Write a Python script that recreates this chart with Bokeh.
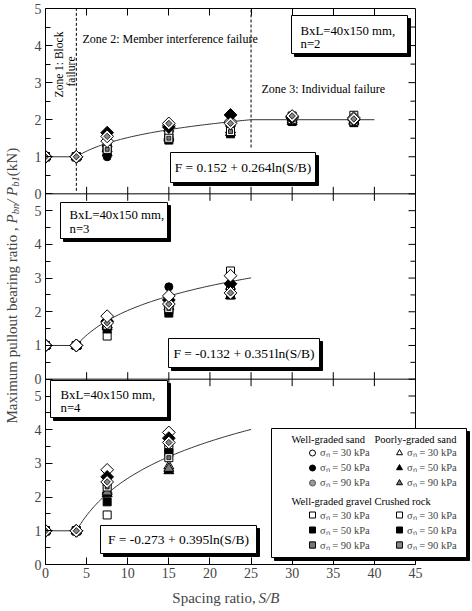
import numpy as np
from bokeh.plotting import figure
from bokeh.layouts import row, column
from bokeh.models import (Range1d, LinearAxis, FixedTicker, Label, BoxAnnotation,
                          Legend, LegendItem)
from bokeh.embed import file_html
from bokeh.resources import INLINE

# ---------------- data ----------------
soils = ["Well-graded sand", "Poorly-graded sand", "Well-graded gravel", "Crushed rock"]
stresses = [30, 50, 90]
xticks = [0, 5, 10, 15, 20, 25, 30, 35, 40, 45]
yticks = [0, 1, 2, 3, 4, 5]
zone_bounds = [3.75, 25]

# panel n=2
n2_x = [0, 3.75, 7.5, 15, 22.5, 30, 37.5]
n2_wgs = [[1, 1, 1.30, 1.70, 1.85, 2.00, 2.02], [1, 1, 1.00, 1.60, 1.75, 2.05, 1.98], [1, 1, 1.15, 1.55, 1.70, 1.98, 2.00]]
n2_pgs = [[1, 1, 1.35, 1.75, 1.90, 2.05, 2.05], [1, 1, 1.10, 1.50, 1.65, 1.95, 1.95], [1, 1, 1.22, 1.55, 1.72, 2.00, 1.98]]
n2_wgg = [[1, 1, 1.25, 1.65, 1.80, 2.10, 2.12], [1, 1, 1.15, 1.45, 1.62, 1.95, 1.92], [1, 1, 1.20, 1.50, 1.68, 2.00, 1.96]]
n2_cr = [[1, 1, 1.42, 1.85, 1.95, 2.05, 2.05], [1, 1, 1.65, 1.80, 2.13, 2.08, 2.00], [1, 1, 1.55, 1.90, 1.90, 2.10, 2.02]]

# panel n=3
n3_x = [0, 3.75, 7.5, 15, 22.5]
n3_wgs = [[1, 1, 1.55, 2.35, 2.80], [1, 1, 1.50, 2.74, 2.85], [1, 1, 1.60, 2.30, 2.65]]
n3_pgs = [[1, 1, 1.60, 2.40, 2.75], [1, 1, 1.55, 2.15, 2.47], [1, 1, 1.62, 2.25, 2.60]]
n3_wgg = [[1, 1, 1.28, 2.05, 3.21], [1, 1, 1.49, 1.96, 2.50], [1, 1, 1.60, 2.10, 2.62]]
n3_cr = [[1, 1, 1.87, 2.47, 3.07], [1, 1, 1.72, 2.35, 2.83], [1, 1, 1.67, 2.23, 2.56]]

# panel n=4
n4_x = [0, 3.75, 7.5, 15]
n4_wgs = [[1, 1, 2.35, 3.50], [1, 1, 2.50, 3.70], [1, 1, 2.27, 3.55]]
n4_pgs = [[1, 1, 2.20, 2.92], [1, 1, 2.10, 2.78], [1, 1, 2.15, 2.85]]
n4_wgg = [[1, 1, 1.47, 3.42], [1, 1, 1.86, 3.32], [1, 1, 2.30, 3.17]]
n4_cr = [[1, 1, 2.81, 3.92], [1, 1, 2.60, 3.75], [1, 1, 2.45, 3.62]]

# fitted curves F = a + b ln(S/B); plotted as F / F(block limit)
fit_a = [0.152, -0.132, -0.273]
fit_b = [0.264, 0.351, 0.395]
fit_end = [25, 25, 25]
flat_end = [40, None, None]
fit_text = ["F = 0.152 + 0.264ln(S/B)", "F = -0.132 + 0.351ln(S/B)", "F = -0.273 + 0.395ln(S/B)"]
panel_text = [("BxL=40x150 mm,", "n=2"), ("BxL=40x150 mm,", "n=3"), ("BxL=40x150 mm,", "n=4")]

# ---------------- geometry / style ----------------
FONT = "Liberation Serif"
W_TOT, H_TOT = 471, 609
LW = 22                     # width of y-label strip
XLH = 24                    # height of x-label strip
MW, MH = W_TOT - LW, H_TOT - XLH
FL, FT, FB, FR = 45, 8, 564, 470   # frame edges (page px)
BOX_R = 415                 # page px of x = 45

def sx(xr):
    return xr - FL

def sy(yr):
    return FB - yr

panel_src = [(0, 5), (0, 5.5), (0, 5.5)]
panel_tgt = [(110, 165), (55, 110), (0, 55)]
XMAX = 45.0
x_end = XMAX * (FR - FL) / (BOX_R - FL)

p = figure(width=MW, height=MH, x_range=Range1d(0, x_end), y_range=Range1d(0, 165),
           output_backend="svg", toolbar_location=None,
           x_axis_location=None, y_axis_location=None,
           min_border_left=FL - LW, min_border_right=LW + MW - FR,
           min_border_top=FT, min_border_bottom=MH - FB)
p.outline_line_color = None
p.background_fill_color = "white"
p.border_fill_color = "white"
for g in p.grid:
    g.visible = False

subs = []
for (s0, s1), (t0, t1) in zip(panel_src, panel_tgt):
    subs.append(p.subplot(x_source=p.x_range, y_source=Range1d(s0, s1),
                          x_target=p.x_range, y_target=Range1d(t0, t1)))

# y ticks in global coordinates
ymaj, ymin, ovr = [], [], {}
for (s0, s1), (t0, t1) in zip(panel_src, panel_tgt):
    k = (t1 - t0) / (s1 - s0)
    for v in yticks:
        gv = t0 + k * v
        ymaj.append(gv)
        ovr[gv] = str(v)
        if v + 0.5 < s1:
            ymin.append(t0 + k * (v + 0.5))

ly = LinearAxis(ticker=FixedTicker(ticks=ymaj, minor_ticks=ymin),
                major_tick_in=7, major_tick_out=0, minor_tick_in=5, minor_tick_out=0,
                axis_line_color="black", major_label_overrides=ovr,
                major_label_text_font=FONT, major_label_text_font_size="14px",
                major_label_standoff=4)
p.add_layout(ly, "left")

xb = LinearAxis(ticker=FixedTicker(ticks=xticks), bounds=(0, XMAX),
                major_tick_in=7, major_tick_out=0, minor_tick_in=0, minor_tick_out=0,
                axis_line_color="black",
                major_label_text_font=FONT, major_label_text_font_size="14px",
                major_label_standoff=3)
p.add_layout(xb, "below")

inner_x = xticks[1:-1]
xa = LinearAxis(ticker=FixedTicker(ticks=inner_x), bounds=(0, XMAX),
                major_tick_in=7, major_tick_out=0, minor_tick_in=0, minor_tick_out=0,
                axis_line_color="black", major_label_overrides={t: "" for t in inner_x},
                major_label_standoff=0, major_label_text_font_size="1px")
p.add_layout(xa, "above")

# right edge of the plot box, right-side ticks, panel separators, boundary ticks
p.segment(x0=[XMAX], y0=[0], x1=[XMAX], y1=[165], line_color="black", line_width=1)
p.ray(x=[XMAX] * len(ymaj), y=ymaj, length=7, length_units="screen", angle=np.pi,
      line_color="black", line_width=1)
p.ray(x=[XMAX] * len(ymin), y=ymin, length=5, length_units="screen", angle=np.pi,
      line_color="black", line_width=1)
for (t0, t1) in panel_tgt[1:]:
    p.segment(x0=[0], y0=[t1], x1=[XMAX], y1=[t1], line_color="black", line_width=1)
    p.ray(x=inner_x, y=[t1] * len(inner_x), length=7, length_units="screen",
          angle=np.pi / 2, line_color="black", line_width=1)
    p.ray(x=inner_x, y=[t1] * len(inner_x), length=7, length_units="screen",
          angle=-np.pi / 2, line_color="black", line_width=1)

# zone dashed lines (top panel)
subs[0].segment(x0=[zone_bounds[0]], y0=[0.08], x1=[zone_bounds[0]], y1=[5],
                line_color="black", line_dash="3 2", line_width=1)
subs[0].segment(x0=[zone_bounds[1]], y0=[1.25], x1=[zone_bounds[1]], y1=[5],
                line_color="black", line_dash="3 2", line_width=1)

# fitted curves
for i, sub in enumerate(subs):
    a, b = fit_a[i], fit_b[i]
    f0 = a + b * np.log(zone_bounds[0])
    xs = list(np.linspace(zone_bounds[0], fit_end[i], 80))
    ys = [(a + b * np.log(x)) / f0 for x in xs]
    xs = [0.0] + xs
    ys = [1.0] + ys
    if flat_end[i] is not None:
        xs.append(flat_end[i])
        ys.append(ys[-1])
    sub.line(xs, ys, line_color="#333333", line_width=1)

# marker styles: (marker, size, fill, line, angle, inner)
M_STYLE = {
    0: [("circle", 8, "white", "black", 0, None), ("circle", 8, "black", "black", 0, None),
        ("circle", 8, "#9a9a9a", "#555555", 0, None)],
    1: [("triangle", 10, "white", "black", 0, None), ("triangle", 10, "black", "black", 0, None),
        ("triangle", 10, "#7a7a7a", "black", 0, None)],
    2: [("square", 8, "white", "black", 0, None), ("square", 8, "black", "black", 0, None),
        ("square", 8, "white", "black", 0, ("square", 4, "#777777"))],
    3: [("square", 9, "white", "black", np.pi / 4, None), ("square", 9, "black", "black", np.pi / 4, None),
        ("square", 9, "white", "black", np.pi / 4, ("square", 4.5, "#888888"))],
}

panels = [(n2_x, [n2_wgs, n2_pgs, n2_wgg, n2_cr]),
          (n3_x, [n3_wgs, n3_pgs, n3_wgg, n3_cr]),
          (n4_x, [n4_wgs, n4_pgs, n4_wgg, n4_cr])]

legend_renderers = {}
for pi_, (xs, groups) in enumerate(panels):
    order = [(s, j) for s in range(4) for j in range(3)]
    if pi_ == 1:
        order.remove((3, 0))
        order.append((3, 0))
    for s, j in order:
        ys = groups[s][j]
        mk, sz, fc, lc, ang, inner = M_STYLE[s][j]
        rs = [subs[pi_].scatter(xs, ys, marker=mk, size=sz, fill_color=fc, line_color=lc,
                                angle=ang, line_width=1)]
        if inner is not None:
            rs.append(subs[pi_].scatter(xs, ys, marker=inner[0], size=inner[1], fill_color=inner[2],
                                        line_color="black", angle=ang, line_width=0.8))
        if pi_ == 2:
            legend_renderers[(s, j)] = rs

# ---------------- annotations ----------------
def box(x0, y0, x1, y1, shadow=3):
    p.add_layout(BoxAnnotation(left=sx(x0) + shadow, right=sx(x1) + shadow,
                               top=sy(y0) - shadow, bottom=sy(y1) - shadow,
                               left_units="screen", right_units="screen",
                               top_units="screen", bottom_units="screen",
                               fill_color="black", fill_alpha=1, line_color="black", line_alpha=1))
    p.add_layout(BoxAnnotation(left=sx(x0), right=sx(x1), top=sy(y0), bottom=sy(y1),
                               left_units="screen", right_units="screen",
                               top_units="screen", bottom_units="screen",
                               fill_color="white", fill_alpha=1, line_color="black",
                               line_alpha=1, line_width=1))

def text(t, xr, yr, size="12.8px", align="left", angle=0, style="normal"):
    p.add_layout(Label(text=t, x=sx(xr), y=sy(yr), x_units="screen", y_units="screen",
                       text_font=FONT, text_font_size=size, text_align=align,
                       text_baseline="middle", angle=angle, text_font_style=style,
                       text_color="black"))

bxl_boxes = [(291, 15, 407, 53), (60, 202, 167, 238), (50, 380, 167, 417)]
bxl_lines = [(300, 30, 43), (69, 214, 228), (60, 394, 407)]
eq_boxes = [(170, 152, 315, 182), (168, 338, 319, 367), (100, 525, 256, 553)]
for i in range(3):
    box(*bxl_boxes[i])
    lx, y1_, y2_ = bxl_lines[i]
    text(panel_text[i][0], lx, y1_)
    text(panel_text[i][1], lx, y2_)
    bx0, by0, bx1, by1 = eq_boxes[i]
    box(bx0, by0, bx1, by1)
    text(fit_text[i], (bx0 + bx1) / 2, (by0 + by1) / 2, size="13.5px", align="center")

text("Zone 2: Member interference failure", 82, 38, size="12px")
text("Zone 3: Individual failure", 261, 88, size="12px")
text("Zone 1: Block", 58, 64, size="11.5px", align="center", angle=np.pi / 2)
text("failure", 70, 71, size="11.5px", align="center", angle=np.pi / 2)

# legend (box + four groups with headers)
box(271, 428, 466, 557)
group_pos = {0: (291, 439), 1: (374, 439), 2: (291, 501), 3: (374, 501)}
row_top = {0: 444.5, 1: 444.5, 2: 507, 3: 507}
leg_x = {0: 304, 1: 391, 2: 304, 3: 391}
LEG_H = 45
for s in range(4):
    gx, gy = group_pos[s]
    text(soils[s], gx, gy, size="10.5px")
    items = [LegendItem(label=f"σₙ = {stresses[j]} kPa", renderers=legend_renderers[(s, j)])
             for j in range(3)]
    lg = Legend(items=items, location=(sx(leg_x[s]), FB - (row_top[s] + LEG_H)),
                label_text_font=FONT, label_text_font_size="10.5px",
                label_height=15, glyph_height=15, glyph_width=16, label_standoff=0,
                spacing=0, padding=0, margin=0, border_line_color=None,
                background_fill_alpha=0)
    p.add_layout(lg, "center")

# ---------------- y-label strip ----------------
yl = figure(width=LW, height=H_TOT, x_range=Range1d(0, LW), y_range=Range1d(0, H_TOT),
            output_backend="svg", toolbar_location=None, min_border=0,
            x_axis_location=None, y_axis_location=None)
yl.outline_line_color = None
for g in yl.grid:
    g.visible = False
ylab = [("Maximum pullout bearing ratio ,", 15, "normal", 0, 200.0),
        ("P", 15, "italic", 0, 9.2),
        ("bn", 10.5, "italic", 3.5, 10.5),
        (" /", 15, "italic", 0, 7.9),
        ("P", 15, "italic", 0, 9.2),
        ("b1", 10.5, "italic", 3.5, 10.5),
        ("(kN)", 15, "normal", 0, 27.5)]
yl_x = 11
cum = 0.0
for t, fs, st, dx, w in ylab:
    yl.add_layout(Label(text=t, x=yl_x + dx, y=H_TOT - 423 + cum,
                        text_font=FONT, text_font_size=f"{fs}px",
                        text_font_style=st, text_align="left", text_baseline="middle",
                        angle=np.pi / 2))
    cum += w

# ---------------- x-label strip ----------------
xl = figure(width=MW, height=XLH, x_range=Range1d(0, MW), y_range=Range1d(0, XLH),
            output_backend="svg", toolbar_location=None, min_border=0,
            x_axis_location=None, y_axis_location=None)
xl.outline_line_color = None
for g in xl.grid:
    g.visible = False
xl_y = XLH - (597 - MH)
xl_x0 = 156
xl.add_layout(Label(text="Spacing ratio,", x=xl_x0 - LW, y=xl_y, text_font=FONT,
                    text_font_size="15px", text_align="left", text_baseline="middle"))
xl.add_layout(Label(text="S/B", x=xl_x0 + 91 - LW, y=xl_y, text_font=FONT, text_font_size="15px",
                    text_font_style="italic", text_align="left", text_baseline="middle"))

layout = row(yl, column(p, xl))
open("out.html", "w").write(file_html(layout, INLINE))
